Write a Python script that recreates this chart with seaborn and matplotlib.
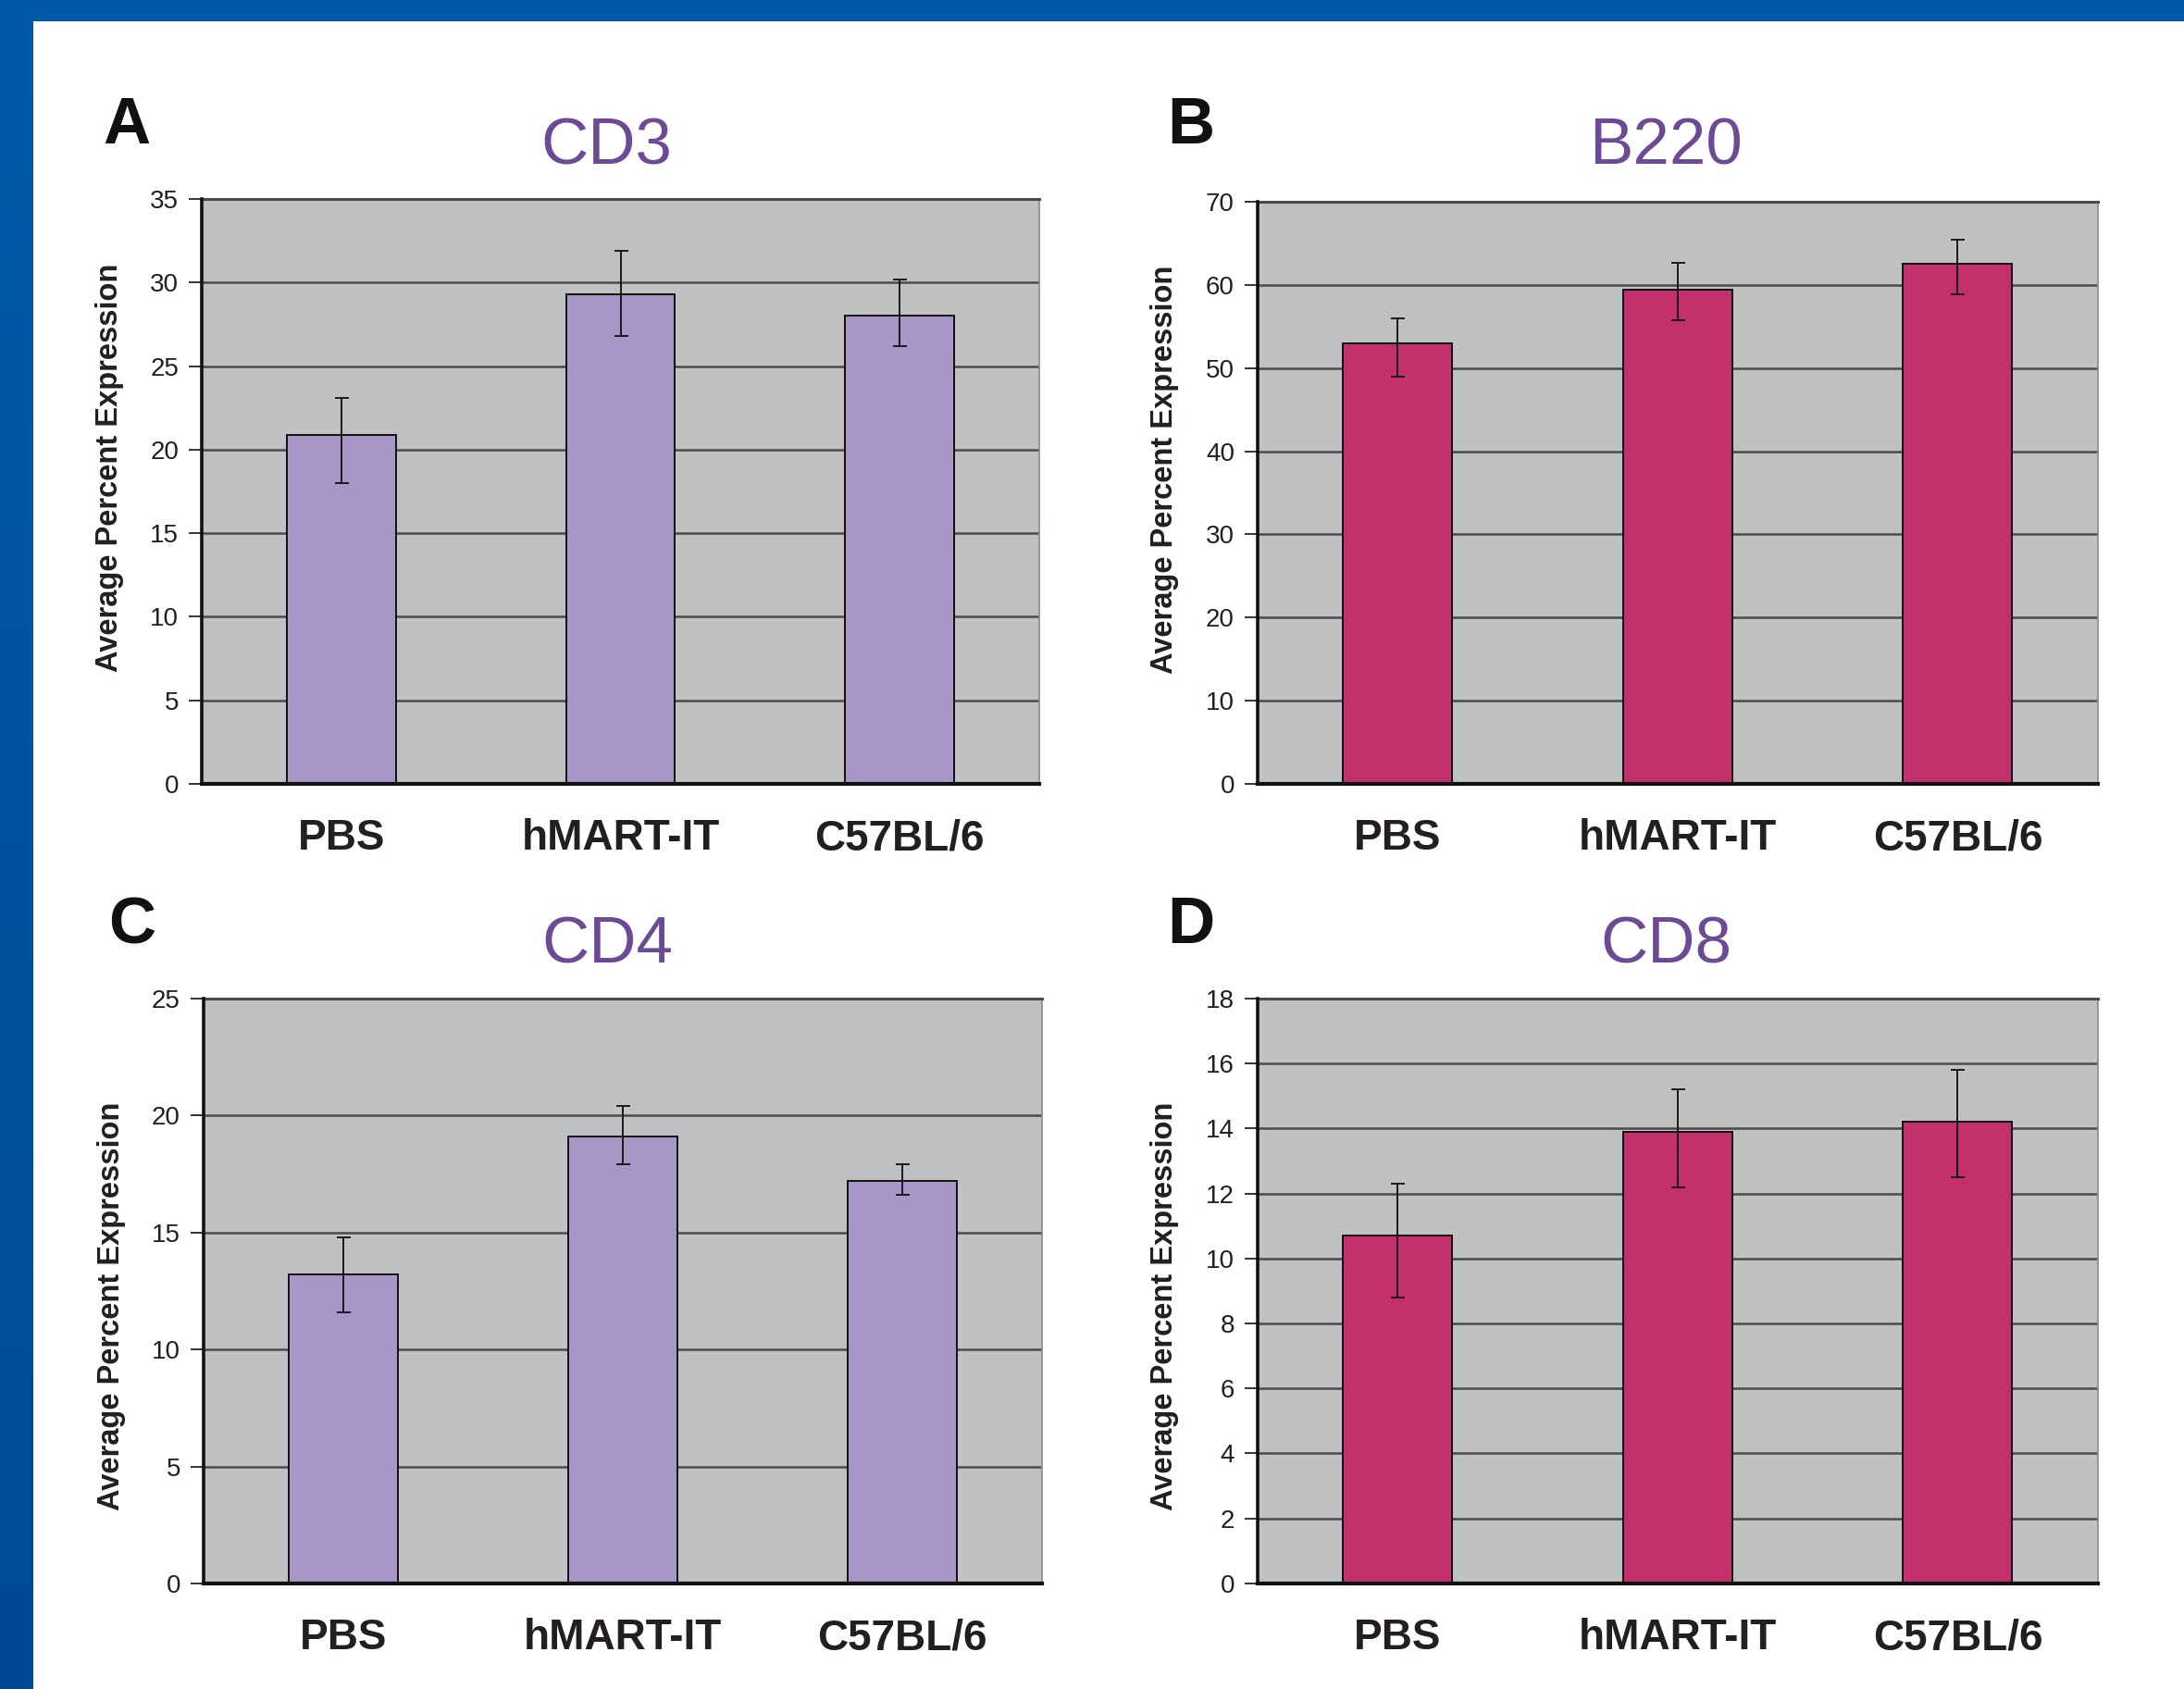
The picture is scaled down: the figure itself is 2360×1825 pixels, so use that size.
import numpy as np
import pandas as pd
import seaborn as sns
import matplotlib.pyplot as plt

plt.rcParams['font.family'] = ['Liberation Sans', 'DejaVu Sans']

groups = ['PBS', 'hMART-IT', 'C57BL/6']

# bar heights and error bar ends
cd3_mean = [20.9, 29.3, 28.0]
cd3_low = [18.0, 26.8, 26.2]
cd3_high = [23.1, 31.9, 30.2]

b220_mean = [53.0, 59.4, 62.5]
b220_low = [49.0, 55.7, 58.9]
b220_high = [56.0, 62.6, 65.4]

cd4_mean = [13.2, 19.1, 17.2]
cd4_low = [11.6, 17.9, 16.6]
cd4_high = [14.8, 20.4, 17.9]

cd8_mean = [10.7, 13.9, 14.2]
cd8_low = [8.8, 12.2, 12.5]
cd8_high = [12.3, 15.2, 15.8]

purple = '#a896c8'
magenta = '#c4306d'
title_col = '#6d4a96'
W, H = 2360, 1825

fig = plt.figure(figsize=(W / 100, H / 100), dpi=100)
fig.patch.set_facecolor('white')

# blue frame: top band and left band with a slight gradient
top = fig.add_axes([0, 1 - 23 / H, 1, 23 / H])
top.set_axis_off()
top.add_patch(plt.Rectangle((0, 0), 1, 1, color='#005aa8', transform=top.transAxes))
left = fig.add_axes([0, 0, 36 / W, 1])
grad = np.linspace(0, 1, 256).reshape(-1, 1)
cmap = plt.matplotlib.colors.LinearSegmentedColormap.from_list('b', ['#005aa8', '#004a94'])
left.imshow(grad, aspect='auto', cmap=cmap)
left.set_axis_off()


def panel(rect, mean, low, high, ymax, step, color, title, letter, tx, ty, lx, ly, ylab_y):
    ax = fig.add_axes(rect)
    df = pd.DataFrame({'group': groups, 'value': mean})
    sns.barplot(data=df, x='group', y='value', color=color, saturation=1,
                width=0.39, edgecolor='#111111', linewidth=1.4, errorbar=None,
                ax=ax, zorder=3)
    mean = np.array(mean)
    yerr = [mean - np.array(low), np.array(high) - mean]
    ax.errorbar(range(len(groups)), mean, yerr=yerr, fmt='none', ecolor='#1a1a1a',
                elinewidth=1.4, capsize=5.4, capthick=1.4, zorder=4)
    ax.set_facecolor('#c0c1c3')
    ax.set_xlim(-0.5, 2.5)
    ax.set_ylim(0, ymax)
    ax.set_yticks(np.arange(0, ymax + step / 2, step))
    ax.yaxis.grid(True, color='#4a4a4a', lw=1.8)
    ax.set_axisbelow(True)
    for s in ['left', 'bottom']:
        ax.spines[s].set_color('#111111')
        ax.spines[s].set_zorder(5)
    ax.spines['left'].set_linewidth(2.6)
    ax.spines['bottom'].set_linewidth(3.0)
    ax.spines['top'].set_color('#4a4a4a')
    ax.spines['top'].set_linewidth(2.2)
    ax.spines['right'].set_color('#8a8a8a')
    ax.spines['right'].set_linewidth(1.2)
    ax.tick_params(axis='y', length=10, width=1.4, color='#333333', pad=8,
                   labelsize=20, labelcolor='#231f20')
    ax.tick_params(axis='x', length=0, pad=27, labelsize=33, labelcolor='#231f20')
    for lbl in ax.get_xticklabels():
        lbl.set_fontweight('bold')
    ax.set_xlabel('')
    ax.set_ylabel('Average Percent Expression', fontsize=23.5, fontweight='bold',
                  color='#231f20')
    ax.yaxis.set_label_coords(-0.093, ylab_y)
    fig.text(tx, ty, title, ha='center', va='baseline', color=title_col, fontsize=51)
    fig.text(lx, ly, letter, ha='left', va='baseline', color='#111111', fontsize=51,
             fontweight='bold')
    return ax


panel([0.0924, 0.5359, 0.3835, 0.3463], cd3_mean, cd3_low, cd3_high, 35, 5, purple,
      'CD3', 'A', 0.2775, 0.9025, 0.047, 0.9151, 0.54)
panel([0.5758, 0.5359, 0.3847, 0.3447], b220_mean, b220_low, b220_high, 70, 10, magenta,
      'B220', 'B', 0.7627, 0.9025, 0.5343, 0.9151, 0.54)
panel([0.0932, 0.0625, 0.3839, 0.3463], cd4_mean, cd4_low, cd4_high, 25, 5, purple,
      'CD4', 'C', 0.278, 0.4296, 0.0496, 0.4416, 0.474)
panel([0.5758, 0.0625, 0.3847, 0.3463], cd8_mean, cd8_low, cd8_high, 18, 2, magenta,
      'CD8', 'D', 0.7627, 0.4296, 0.5343, 0.4416, 0.474)

fig.savefig('out.png', dpi=100)
